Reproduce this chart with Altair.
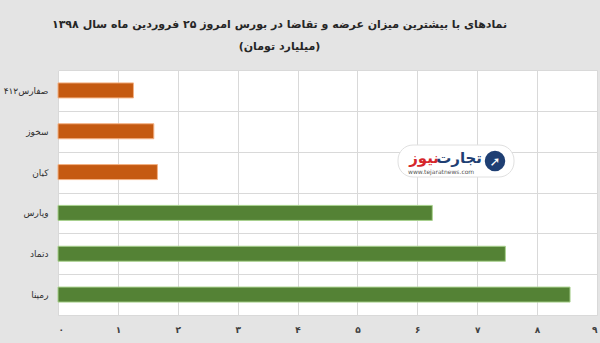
import altair as alt
import pandas as pd

symbols = ["صفارس۴۱۲", "سخوز", "کیان", "وپارس", "دتماد", "رمپنا"]
values = [1.26, 1.60, 1.66, 6.25, 7.47, 8.55]
groups = ["عرضه", "عرضه", "عرضه", "تقاضا", "تقاضا", "تقاضا"]
title_lines = ["نمادهای با بیشترین میزان عرضه و تقاضا در بورس امروز ۲۵ فروردین ماه سال ۱۳۹۸", "(میلیارد تومان)"]

df = pd.DataFrame({"symbol": symbols, "value": values, "group": groups})

FONT = "DejaVu Sans"

bars = alt.Chart(df).mark_bar(size=15, strokeWidth=1).encode(
    y=alt.Y("symbol:N", sort=symbols, title=None,
            scale=alt.Scale(paddingInner=0, paddingOuter=0),
            axis=alt.Axis(tickBand="extent", ticks=False, domain=False,
                          labelFont=FONT, labelFontSize=9, labelFontWeight="normal",
                          labelColor="#303030", labelPadding=10,
                          gridColor="#d9d9d9", grid=True)),
    x=alt.X("value:Q", title=None,
            scale=alt.Scale(domain=[0, 9], nice=False),
            axis=alt.Axis(values=list(range(10)), ticks=False, domain=False,
                          labelFont=FONT, labelFontSize=9, labelFontWeight="bold",
                          labelColor="#404040", labelPadding=10,
                          gridColor="#d9d9d9",
                          labelExpr="['۰','۱','۲','۳','۴','۵','۶','۷','۸','۹'][datum.value]")),
    color=alt.Color("group:N", scale=alt.Scale(domain=["عرضه", "تقاضا"], range=["#c55a11", "#548235"]), legend=None),
    stroke=alt.Stroke("group:N", scale=alt.Scale(domain=["عرضه", "تقاضا"], range=["#f4b183", "#a9d18e"]), legend=None),
)

wm = pd.DataFrame({"k": [0]})
pill = alt.Chart(wm).mark_rect(fill="white", cornerRadius=15, stroke="#e0e0e0").encode(
    x=alt.value(340), x2=alt.value(456), y=alt.value(75), y2=alt.value(107))
circle = alt.Chart(wm).mark_point(shape="circle", filled=True, color="#1f3f73", size=420, opacity=1).encode(
    x=alt.value(437), y=alt.value(91))
arrow = alt.Chart(wm).mark_text(text="➚", color="white", fontSize=13, font=FONT).encode(
    x=alt.value(437), y=alt.value(92))
logo1 = alt.Chart(wm).mark_text(text="تجارت", color="#1f3f73", fontSize=15, fontWeight="bold",
                                font=FONT, align="right").encode(x=alt.value(424), y=alt.value(88))
logo2 = alt.Chart(wm).mark_text(text="نیوز", color="#d6262b", fontSize=15, fontWeight="bold",
                                font=FONT, align="right").encode(x=alt.value(381), y=alt.value(88))
logo3 = alt.Chart(wm).mark_text(text="www.tejaratnews.com", color="#555555", fontSize=6,
                                font=FONT, align="left").encode(x=alt.value(350), y=alt.value(102))

chart = alt.layer(bars, pill, circle, arrow, logo2, logo1, logo3).properties(
    width=539, height=245,
    autosize="none",
    padding={"left": 58, "top": 70, "right": 3, "bottom": 28},
    background="#e4e4e4",
    title=alt.TitleParams(text=title_lines, anchor="middle", dx=-48, offset=14,
                          font=FONT, fontSize=11, fontWeight="bold", color="#262626",
                          lineHeight=22),
).configure_view(fill="white", stroke=None)

chart.save("out.html", embed_options={"renderer": "svg", "actions": False})
